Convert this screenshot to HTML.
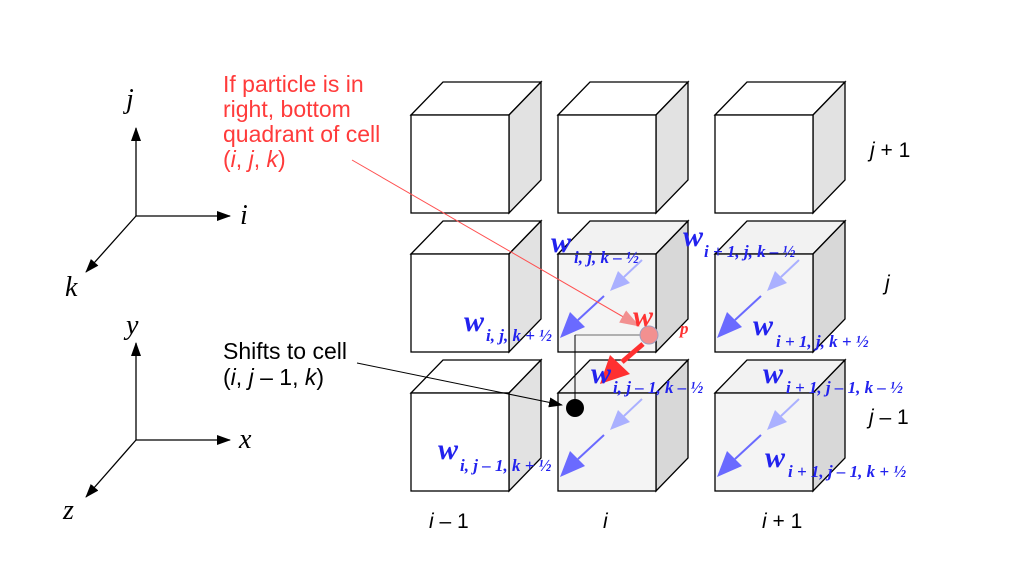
<!DOCTYPE html>
<html><head><meta charset="utf-8"><style>
html,body{margin:0;padding:0;background:#fff}
svg{display:block}
.ax{stroke:#000;stroke-width:1.3;fill:none}
.axl{font-family:"Liberation Serif",serif;font-style:italic;font-size:28px}
.lab{font-family:"Liberation Sans",sans-serif;font-size:21px}
.lab2{font-family:"Liberation Sans",sans-serif;font-size:23px}
.w{font-family:"Liberation Serif",serif;font-style:italic;font-weight:bold;font-size:30px;fill:#2222ee}
.s{font-family:"Liberation Serif",serif;font-style:italic;font-weight:bold;font-size:17px;fill:#2222ee}
</style></head><body>
<svg width="1024" height="576" viewBox="0 0 1024 576">
<defs>
<marker id="ah" markerWidth="14" markerHeight="10" refX="13" refY="5" orient="auto" markerUnits="userSpaceOnUse"><path d="M0,0L14,5L0,10z" fill="#000"/></marker>
<marker id="ahr" markerWidth="20" markerHeight="14" refX="19" refY="7" orient="auto" markerUnits="userSpaceOnUse"><path d="M0,0L20,7L0,14z" fill="#f29090"/></marker>
</defs>
<g>
<line class="ax" x1="136" y1="216" x2="136" y2="128" marker-end="url(#ah)"/>
<line class="ax" x1="136" y1="216" x2="230" y2="216" marker-end="url(#ah)"/>
<line class="ax" x1="136" y1="216" x2="86" y2="272" marker-end="url(#ah)"/>
<text class="axl" x="126" y="108">j</text><text class="axl" x="240" y="224">i</text><text class="axl" x="65" y="296">k</text>
</g>
<g>
<line class="ax" x1="136" y1="440" x2="136" y2="343" marker-end="url(#ah)"/>
<line class="ax" x1="136" y1="440" x2="230" y2="440" marker-end="url(#ah)"/>
<line class="ax" x1="136" y1="440" x2="86" y2="497" marker-end="url(#ah)"/>
<text class="axl" x="126" y="334">y</text><text class="axl" x="239" y="448">x</text><text class="axl" x="63" y="519">z</text>
</g>
<g id="cubes"></g>
<g>
<text class="lab2" fill="#ff3b3b" x="223" y="92">If particle is in</text>
<text class="lab2" fill="#ff3b3b" x="223" y="117">right, bottom</text>
<text class="lab2" fill="#ff3b3b" x="223" y="142">quadrant of cell</text>
<text class="lab2" fill="#ff3b3b" x="223" y="167">(<tspan font-style="italic">i</tspan>, <tspan font-style="italic">j</tspan>, <tspan font-style="italic">k</tspan>)</text>
<line x1="352" y1="160" x2="639" y2="326" stroke="#ff5050" stroke-width="1" marker-end="url(#ahr)"/>
</g>
<g>
<text class="lab2" x="223" y="359">Shifts to cell</text>
<text class="lab2" x="223" y="385">(<tspan font-style="italic">i</tspan>, <tspan font-style="italic">j</tspan> – 1, <tspan font-style="italic">k</tspan>)</text>
<line x1="357" y1="363" x2="562" y2="405" stroke="#000" stroke-width="1" marker-end="url(#ah)"/>
</g>
<line x1="575" y1="335" x2="640" y2="335" stroke="#999" stroke-width="1.5"/>
<line x1="575" y1="335" x2="575" y2="408" stroke="#000" stroke-width="1"/>
<circle cx="649" cy="335" r="9" fill="#f29090" stroke="#a0a0c0"/>
<circle cx="575" cy="408" r="9" fill="#000"/>
<line x1="643" y1="344" x2="622" y2="362" stroke="#ff3030" stroke-width="5"/>
<path d="M600,384 L610,355 L630,374 Z" fill="#ff3030"/>
<text class="w" style="fill:#ff3333" x="633" y="326">w</text>
<text class="s" style="fill:#ff3333" x="680" y="334">p</text>
<g>
<text class="lab" x="429" y="528"><tspan font-style="italic">i</tspan> – 1</text>
<text class="lab" x="603" y="528" font-style="italic">i</text>
<text class="lab" x="762" y="528"><tspan font-style="italic">i</tspan> + 1</text>
</g>
<g>
<text class="lab" x="870" y="157"><tspan font-style="italic">j</tspan> + 1</text>
<text class="lab" x="885" y="290" font-style="italic">j</text>
<text class="lab" x="869" y="424"><tspan font-style="italic">j</tspan> – 1</text>
</g>
<g id="wl">
<text class="w" x="551" y="252">w</text><text class="s" x="574" y="263">i, j, k – ½</text>
<text class="w" x="683" y="246">w</text><text class="s" x="704" y="257">i + 1, j, k – ½</text>
<text class="w" x="464" y="331">w</text><text class="s" x="486" y="341">i, j, k + ½</text>
<text class="w" x="753" y="335">w</text><text class="s" x="776" y="347">i + 1, j, k + ½</text>
<text class="w" x="591" y="383">w</text><text class="s" x="613" y="393">i, j – 1, k – ½</text>
<text class="w" x="763" y="383">w</text><text class="s" x="786" y="393">i + 1, j – 1, k – ½</text>
<text class="w" x="438" y="459">w</text><text class="s" x="460" y="471">i, j – 1, k + ½</text>
<text class="w" x="765" y="467">w</text><text class="s" x="788" y="477">i + 1, j – 1, k + ½</text>
</g>
<script>
const cols=[411,558,715], rows=[115,254,393];
const hi=[[1,1],[1,2],[2,1],[2,2]];
const g=document.getElementById('cubes'), NS='http://www.w3.org/2000/svg';
function mk(t,a){const e=document.createElementNS(NS,t);for(const k in a)e.setAttribute(k,a[k]);return e;}
const W=98,H=98,dx=32,dy=-33;
cols.forEach((x,ci)=>rows.forEach((y,ri)=>{
  const h=hi.some(p=>p[0]===ci&&p[1]===ri);
  const c=mk('g',{});
  
  
  c.appendChild(mk('polygon',{points:`${x},${y} ${x+dx},${y+dy} ${x+W+dx},${y+dy} ${x+W},${y}`,fill:h?'#f2f2f2':'#fff',stroke:'#000','stroke-width':1.3}));
  c.appendChild(mk('polygon',{points:`${x+W},${y} ${x+W+dx},${y+dy} ${x+W+dx},${y+H+dy} ${x+W},${y+H}`,fill:h?'#d8d8d8':'#e2e2e2',stroke:'#000','stroke-width':1.3}));
  c.appendChild(mk('rect',{x:x,y:y,width:W,height:H,fill:h?'#f4f4f4':'#fff',stroke:'#000','stroke-width':1.3}));
  if(h){
    c.appendChild(mk('line',{x1:x+84,y1:y+6,x2:x+66,y2:y+23,stroke:'#aab0ff','stroke-width':2}));
    c.appendChild(mk('path',{d:`M${x+52},${y+37} L${x+60},${y+17} L${x+72},${y+29} Z`,fill:'#aab0ff'}));
    c.appendChild(mk('line',{x1:x+46,y1:y+42,x2:x+20,y2:y+66,stroke:'#6a6aff','stroke-width':2}));
    c.appendChild(mk('path',{d:`M${x+2},${y+84} L${x+12},${y+58} L${x+27},${y+73} Z`,fill:'#6a6aff'}));
  }
  g.appendChild(c);
}));
</script>
</svg>
</body></html>
